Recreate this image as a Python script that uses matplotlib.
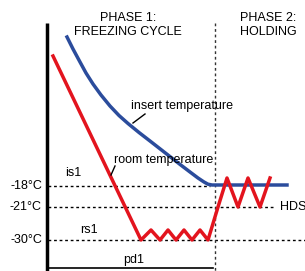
import matplotlib
matplotlib.use("Agg")
import matplotlib.pyplot as plt

plt.rcParams['font.family'] = ['Liberation Sans', 'DejaVu Sans']

# schematic coordinates (x to the right, y downward as in the drawing)
insert_x = [67, 73, 80, 86, 93, 101, 110, 119, 128, 139, 150, 160, 170, 180, 190, 198, 204, 208, 212, 287]
insert_y = [37, 49, 62, 73, 84, 95, 106, 115.5, 123.5, 132.5, 141, 148.8, 156.6, 164.4, 172, 178, 182, 184.2, 185, 185]

room_x = [53, 141, 151, 160, 168, 176, 184, 192, 200, 208, 218, 227, 238, 248, 260, 270]
room_y = [56, 240, 230, 240, 230, 240, 230, 240, 230, 240, 207, 178, 207, 178, 207, 178]

level_names = ["-18°C", "-21°C", "-30°C"]
level_y = [186, 207, 240]
level_end = [210, 275, 305]

blue = "#2b4c9c"
red = "#e3141e"

fig = plt.figure(figsize=(3.05, 2.71), dpi=100)
ax = fig.add_axes([0, 0, 1, 1])
ax.set_xlim(0, 305)
ax.set_ylim(271, 0)
ax.axis("off")

# dashed reference levels
for name, y, x1 in zip(level_names, level_y, level_end):
    ax.plot([48, x1], [y, y], color="black", lw=1, ls=(0, (2, 2)))
    ax.text(42, y, name, ha="right", va="center", fontsize=9)
ax.text(280, 207, "HDS", ha="left", va="center", fontsize=9)

# phase separator
ax.plot([215, 215], [23, 271], color="#333333", lw=1, ls=(0, (2, 2)))

# axes lines
ax.plot([47, 47], [23, 271], color="black", lw=2.5, solid_capstyle="butt")
ax.plot([48, 213], [268, 268], color="black", lw=1.2)

# curves
ax.plot(insert_x, insert_y, color=blue, lw=2.5, solid_joinstyle="round")
ax.plot(room_x, room_y, color=red, lw=2.5, solid_joinstyle="round")

# titles
ax.text(128, 18, "PHASE 1:", ha="center", va="center", fontsize=9)
ax.text(128, 32, "FREEZING CYCLE", ha="center", va="center", fontsize=9)
ax.text(240, 18, "PHASE 2:", ha="left", va="center", fontsize=9)
ax.text(240, 32, "HOLDING", ha="left", va="center", fontsize=9)

# annotations
ax.text(131, 106, "insert temperature", ha="left", va="center", fontsize=9)
ax.plot([145, 133], [114, 123], color="black", lw=1)
ax.text(114, 160, "room temperature", ha="left", va="center", fontsize=9)
ax.plot([115, 111], [166, 175], color="black", lw=1)
ax.text(65, 173, "is1", ha="left", va="center", fontsize=9)
ax.text(80, 230, "rs1", ha="left", va="center", fontsize=9)
ax.text(123, 260, "pd1", ha="left", va="center", fontsize=9)

fig.savefig("out.png", dpi=100)
